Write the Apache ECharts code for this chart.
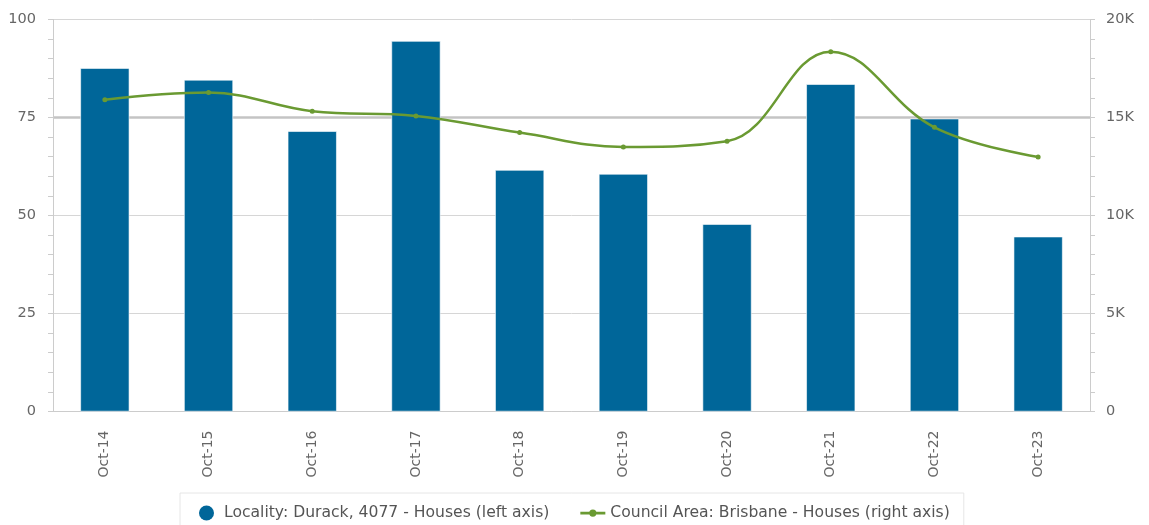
<!DOCTYPE html>
<html>
<head>
<meta charset="utf-8">
<script src="https://cdn.jsdelivr.net/npm/echarts@6/dist/echarts.min.js"></script>
<style>
html,body{margin:0;padding:0;background:#fff;}
#chart{width:1149px;height:525px;}
</style>
</head>
<body>
<div id="chart"></div>
<script>
const categories = ['Oct-14','Oct-15','Oct-16','Oct-17','Oct-18','Oct-19','Oct-20','Oct-21','Oct-22','Oct-23'];
const localityValues = [87.6, 84.6, 71.5, 94.5, 61.6, 60.6, 47.8, 83.5, 74.7, 44.6];
const councilValues = [15900, 16270, 15320, 15080, 14230, 13500, 13790, 18360, 14500, 12990];
const seriesNames = ['Locality: Durack, 4077 - Houses (left axis)', 'Council Area: Brisbane - Houses (right axis)'];
const leftTicks = [0, 25, 50, 75, 100];
const rightTicks = [0, 5000, 10000, 15000, 20000];

const chart = echarts.init(document.getElementById('chart'));
const FONT = 'DejaVu Sans';
chart.setOption({
  animation: false,
  textStyle: { fontFamily: FONT },
  grid: { left: 53, right: 59, top: 19.5, bottom: 113.5, containLabel: false },
  legend: {
    left: 180, top: 493,
    padding: [12, 14, 12, 19],
    borderColor: '#e6e6e6', borderWidth: 1, borderRadius: 0,
    itemGap: 31,
    itemWidth: 25, itemHeight: 15,
    symbolKeepAspect: true,
    textStyle: { fontFamily: FONT, fontSize: 15.6, color: '#555' },
    data: [
      { name: seriesNames[0], icon: 'circle', itemStyle: { borderWidth: 0 } },
      { name: seriesNames[1], icon: 'path://M0,4h20v2.2h-20z M10,8a2.9,2.9 0 1,1 0.01,0z' }
    ]
  },
  xAxis: {
    type: 'category',
    data: categories,
    boundaryGap: true,
    axisLine: { lineStyle: { color: '#cccccc', width: 1 } },
    axisTick: { alignWithLabel: true, length: 10, lineStyle: { color: '#ccd6eb' } },
    axisLabel: { rotate: 90, margin: 19, fontSize: 14, color: '#666', fontFamily: FONT }
  },
  yAxis: [
    {
      type: 'value', min: leftTicks[0], max: leftTicks[leftTicks.length - 1], interval: 25,
      position: 'left',
      axisLine: { show: true, lineStyle: { color: '#cccccc' } },
      axisTick: { show: true, length: 5, lineStyle: { color: '#cccccc' } },
      minorTick: { show: true, splitNumber: 5, length: 5, lineStyle: { color: '#cccccc' } },
      splitLine: { show: true, lineStyle: { color: '#d6d6d6', width: 1 } },
      axisLabel: { fontSize: 14.5, color: '#666', margin: 17, fontFamily: FONT }
    },
    {
      type: 'value', min: rightTicks[0], max: rightTicks[rightTicks.length - 1], interval: 5000,
      position: 'right',
      axisLine: { show: true, lineStyle: { color: '#cccccc' } },
      axisTick: { show: true, length: 5, lineStyle: { color: '#cccccc' } },
      minorTick: { show: true, splitNumber: 5, length: 5, lineStyle: { color: '#cccccc' } },
      splitLine: { show: true, lineStyle: { color: ['transparent', 'transparent', 'transparent', '#c4c4c4', 'transparent'], width: 2.5 } },
      axisLabel: {
        fontSize: 14.5, color: '#666', margin: 16, fontFamily: FONT,
        formatter: v => v === 0 ? '0' : (v / 1000) + 'K'
      }
    }
  ],
  series: [
    {
      name: seriesNames[0],
      type: 'bar',
      yAxisIndex: 0,
      data: localityValues,
      barWidth: 49,
      itemStyle: { color: '#006699', borderColor: '#ffffff', borderWidth: 0.6 },
      z: 2
    },
    {
      name: seriesNames[1],
      type: 'line',
      yAxisIndex: 1,
      data: councilValues,
      smooth: 0.4,
      symbol: 'circle',
      symbolSize: 5,
      showSymbol: true,
      lineStyle: { color: '#6a9a32', width: 2.5 },
      itemStyle: { color: '#6a9a32' },
      z: 3
    }
  ]
});
</script>
</body>
</html>
